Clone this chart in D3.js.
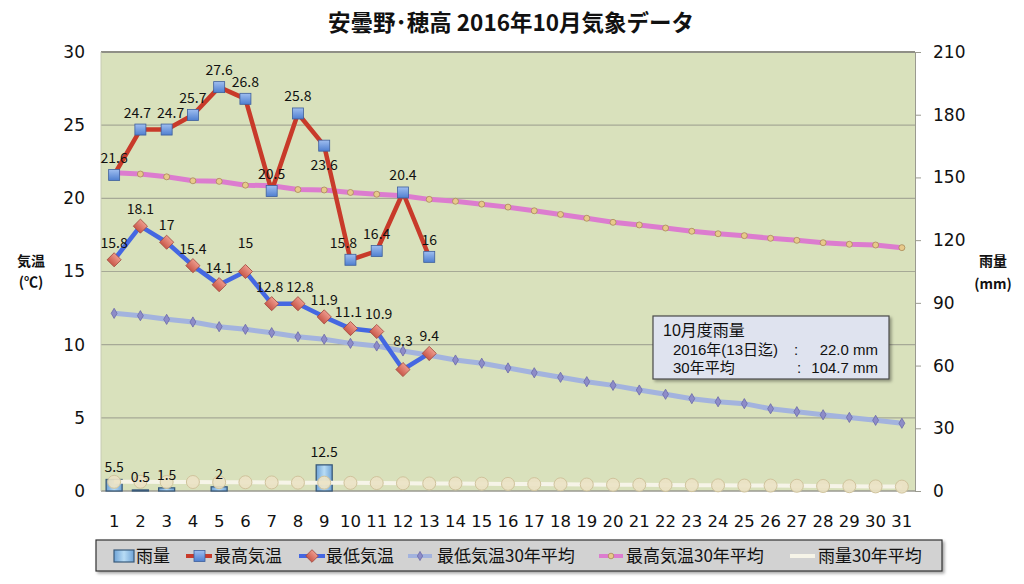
<!DOCTYPE html>
<html><head><meta charset="utf-8">
<script src="https://cdn.jsdelivr.net/npm/d3@7"></script>
<style>body{margin:0;background:#fff;} svg{display:block;}</style>
</head><body><svg id="c" width="1024" height="584"></svg>
<script>
const days = [1,2,3,4,5,6,7,8,9,10,11,12,13,14,15,16,17,18,19,20,21,22,23,24,25,26,27,28,29,30,31];
const rain = [5.5,0.5,1.5,0,2,0,0,0,12.5,0,0,0,0];
const maxTemp = [21.6,24.7,24.7,25.7,27.6,26.8,20.5,25.8,23.6,15.8,16.4,20.4,16];
const minTemp = [15.8,18.1,17,15.4,14.1,15,12.8,12.8,11.9,11.1,10.9,8.3,9.4];
const maxTemp30 = [21.75,21.66,21.47,21.2,21.16,20.9,20.86,20.6,20.57,20.4,20.28,20.18,19.93,19.8,19.6,19.4,19.15,18.9,18.64,18.36,18.18,17.97,17.75,17.58,17.45,17.27,17.13,16.97,16.86,16.81,16.63];
const minTemp30 = [12.14,11.98,11.73,11.55,11.23,11.05,10.82,10.54,10.37,10.09,9.91,9.57,9.28,8.95,8.73,8.41,8.08,7.77,7.47,7.22,6.9,6.61,6.31,6.1,5.97,5.62,5.42,5.21,5.03,4.83,4.63];
const rain30 = [4.4,4.4,4.3,4.3,4.2,4.2,4.1,4.0,4.0,3.9,3.8,3.7,3.6,3.6,3.5,3.4,3.3,3.2,3.1,3.0,3.0,2.9,2.8,2.7,2.6,2.6,2.5,2.4,2.3,2.2,2.1];
const tempTicks = [0,5,10,15,20,25,30];
const rainTicks = [0,30,60,90,120,150,180,210];
const title = "安曇野･穂高 2016年10月気象データ";
const legendNames = ["雨量","最高気温","最低気温","最低気温30年平均","最高気温30年平均","雨量30年平均"];
const infoTitle = "10月度雨量";
const infoLabels = ["2016年(13日迄)","30年平均"];
const infoValues = ["22.0 mm","104.7 mm"];

const svg = d3.select("#c");
const L = 101, R = 915, T = 52, B = 491;
const NUM = "'DejaVu Sans', 'Noto Sans CJK JP', sans-serif";
const JP = "'Noto Sans CJK JP', sans-serif";
const LAT = "'Liberation Sans', 'Noto Sans CJK JP', sans-serif";

const x = d3.scaleBand().domain(days).range([L, R]);
const cx = d => x(d) + x.bandwidth()/2;
const yT = d3.scaleLinear().domain([0,30]).range([B, T]);
const yR = d3.scaleLinear().domain([0,210]).range([B, T]);

const defs = svg.append("defs");
const g1 = defs.append("linearGradient").attr("id","sq").attr("x1",0).attr("y1",0).attr("x2",0).attr("y2",1);
g1.append("stop").attr("offset","0%").attr("stop-color","#9fbef0");
g1.append("stop").attr("offset","100%").attr("stop-color","#4f7fd0");
const g2 = defs.append("linearGradient").attr("id","bar").attr("x1",0).attr("y1",0).attr("x2",1).attr("y2",0);
g2.append("stop").attr("offset","0%").attr("stop-color","#6fa3d6");
g2.append("stop").attr("offset","50%").attr("stop-color","#b8dcf5");
g2.append("stop").attr("offset","100%").attr("stop-color","#6fa3d6");
const g3 = defs.append("linearGradient").attr("id","dia").attr("x1",0).attr("y1",0).attr("x2",0).attr("y2",1);
g3.append("stop").attr("offset","0%").attr("stop-color","#ee9a8c");
g3.append("stop").attr("offset","100%").attr("stop-color","#c9584a");
const sh = defs.append("filter").attr("id","shadow").attr("x","-5%").attr("y","-20%").attr("width","110%").attr("height","150%");
sh.append("feDropShadow").attr("dx",2).attr("dy",2).attr("stdDeviation",1.5).attr("flood-color","#000").attr("flood-opacity",0.35);

// title
svg.append("text").attr("x", 511).attr("y", 31).attr("text-anchor","middle")
  .attr("font-family", JP).attr("font-weight","bold").attr("font-size",22.5).attr("fill","#111").text(title);

// plot background
svg.append("rect").attr("x",L).attr("y",T).attr("width",R-L).attr("height",B-T).attr("fill","#d9e1bc");
// grid
svg.append("g").selectAll("line").data(tempTicks.filter(t=>t>0 && t<30)).join("line")
  .attr("x1",L).attr("x2",R).attr("y1",d=>yT(d)).attr("y2",d=>yT(d))
  .attr("stroke","#a6a996").attr("stroke-width",1.2);
svg.append("line").attr("x1",L).attr("x2",R).attr("y1",T).attr("y2",T).attr("stroke","#8f8f86").attr("stroke-width",2);
svg.append("line").attr("x1",L).attr("x2",R).attr("y1",B).attr("y2",B).attr("stroke","#9a9a90").attr("stroke-width",1.5);
svg.append("line").attr("x1",L).attr("x2",L).attr("y1",T).attr("y2",B).attr("stroke","#c8ccb4").attr("stroke-width",1);

// left axis
const axL = d3.axisLeft(yT).tickValues(tempTicks).tickSize(0).tickPadding(16);
svg.append("g").attr("transform",`translate(${L},0)`).call(axL)
  .call(g=>g.select(".domain").remove())
  .selectAll("text").attr("font-family",NUM).attr("font-size",17).attr("fill","#111");
// right axis
const axR = d3.axisRight(yR).tickValues(rainTicks).tickSize(6).tickPadding(12);
svg.append("g").attr("transform",`translate(${R},0)`).call(axR)
  .call(g=>g.select(".domain").attr("stroke","#9a9a90"))
  .call(g=>g.selectAll(".tick line").attr("stroke","#9a9a90"))
  .selectAll("text").attr("font-family",NUM).attr("font-size",17).attr("fill","#111");
// bottom axis
const axB = d3.axisBottom(x).tickSize(0).tickPadding(24);
svg.append("g").attr("transform",`translate(0,${B})`).call(axB)
  .call(g=>g.select(".domain").remove())
  .selectAll("text").attr("font-family",NUM).attr("font-size",16.5).attr("fill","#111");

// axis titles
const at = svg.append("g").attr("font-family",JP).attr("font-weight","bold").attr("font-size",14).attr("fill","#111").attr("text-anchor","middle");
at.append("text").attr("x",31).attr("y",266).text("気温");
at.append("text").attr("x",31).attr("y",287).text("(℃)");
at.append("text").attr("x",993).attr("y",266).text("雨量");
at.append("text").attr("x",993).attr("y",289).text("(mm)");

// rain bars
const rainData = rain.map((v,i)=>({d:days[i],v})).filter(o=>o.v>0);
svg.append("g").selectAll("rect").data(rainData).join("rect")
  .attr("x",o=>cx(o.d)-8).attr("width",16)
  .attr("y",o=>yR(o.v)).attr("height",o=>B-yR(o.v))
  .attr("fill","url(#bar)").attr("stroke","#3a5a7a").attr("stroke-width",1.3);

// rain30 line
const line = (ys, arr) => d3.line().x((v,i)=>cx(days[i])).y(v=>ys(v))(arr);
svg.append("path").attr("d",line(yR,rain30)).attr("fill","none").attr("stroke","#f6f4e8").attr("stroke-width",4);
svg.append("g").selectAll("circle").data(rain30).join("circle")
  .attr("cx",(v,i)=>cx(days[i])).attr("cy",v=>yR(v)).attr("r",6.5)
  .attr("fill","#ebe2c4").attr("fill-opacity",0.9).attr("stroke","#d0c39c").attr("stroke-width",1);

// max30
svg.append("path").attr("d",line(yT,maxTemp30)).attr("fill","none").attr("stroke","#dc7ccf").attr("stroke-width",5);
svg.append("g").selectAll("circle").data(maxTemp30).join("circle")
  .attr("cx",(v,i)=>cx(days[i])).attr("cy",v=>yT(v)).attr("r",3)
  .attr("fill","#e8c98a").attr("stroke","#a88a58").attr("stroke-width",0.8);
// min30
svg.append("path").attr("d",line(yT,minTemp30)).attr("fill","none").attr("stroke","#a3b3de").attr("stroke-width",5);
svg.append("g").selectAll("path").data(minTemp30).join("path")
  .attr("d",d3.symbol(d3.symbolDiamond, 30))
  .attr("transform",(v,i)=>`translate(${cx(days[i])},${yT(v)})`)
  .attr("fill","#8d8cc8").attr("stroke","#6b69a8").attr("stroke-width",0.8);

// max temp
svg.append("path").attr("d",line(yT,maxTemp)).attr("fill","none").attr("stroke","#c83a2a").attr("stroke-width",4.5).attr("stroke-linejoin","round");
svg.append("g").selectAll("rect").data(maxTemp).join("rect")
  .attr("x",(v,i)=>cx(days[i])-5.5).attr("y",v=>yT(v)-5.5).attr("width",11).attr("height",11)
  .attr("fill","url(#sq)").attr("stroke","#3e5f9c").attr("stroke-width",0.8);
// min temp
svg.append("path").attr("d",line(yT,minTemp)).attr("fill","none").attr("stroke","#4467e2").attr("stroke-width",4.5).attr("stroke-linejoin","round");
svg.append("g").selectAll("path").data(minTemp).join("path")
  .attr("d",d3.symbol(d3.symbolSquare, 100))
  .attr("transform",(v,i)=>`translate(${cx(days[i])},${yT(v)}) rotate(45)`)
  .attr("fill","url(#dia)").attr("stroke","#a24a3e").attr("stroke-width",0.8);

// labels
const lab = svg.append("g").attr("font-family",JP).attr("font-size",14).attr("fill","#111").attr("text-anchor","middle");
const maxAdj = {8: 36};
const maxDx = {1: -3, 2: 4, 9: -7};
lab.selectAll("text.mx").data(maxTemp).join("text").attr("class","mx")
  .attr("x",(v,i)=>cx(days[i]) + (maxDx[i]||0))
  .attr("y",(v,i)=>yT(v) - 12 + (maxAdj[i]||0))
  .text(v=>v);
const minAdj = {5: -12, 11: -12};
const minDx = {6: -2, 7: 2, 9: -2, 10: 2};
lab.selectAll("text.mn").data(minTemp).join("text").attr("class","mn")
  .attr("x",(v,i)=>cx(days[i]) + (minDx[i]||0))
  .attr("y",(v,i)=>yT(v) - 12 + (minAdj[i]||0))
  .text(v=>v);
lab.selectAll("text.rn").data(rainData).join("text").attr("class","rn")
  .attr("x",o=>cx(o.d)).attr("y",o=>yR(o.v)-8).text(o=>o.v);

// info box
const ib = svg.append("g");
ib.append("rect").attr("x",653).attr("y",316).attr("width",236).attr("height",63)
  .attr("fill","#dfe3ef").attr("stroke","#4a4a4a").attr("stroke-width",1.2).attr("filter","url(#shadow)");
const it = ib.append("g").attr("font-family",LAT).attr("font-size",15).attr("fill","#111");
it.append("text").attr("x",663).attr("y",336).attr("font-size",16).text(infoTitle);
it.append("text").attr("x",673).attr("y",355).text(infoLabels[0]);
it.append("text").attr("x",794).attr("y",355).text(":");
it.append("text").attr("x",878).attr("y",355).attr("text-anchor","end").text(infoValues[0]);
it.append("text").attr("x",673).attr("y",372.5).text(infoLabels[1]);
it.append("text").attr("x",797).attr("y",372.5).text(":");
it.append("text").attr("x",878).attr("y",372.5).attr("text-anchor","end").text(infoValues[1]);

// legend
const lg = svg.append("g");
lg.append("rect").attr("x",96).attr("y",540).attr("width",846).attr("height",31)
  .attr("fill","#d2d2d2").attr("stroke","#333").attr("stroke-width",1.2).attr("filter","url(#shadow)");
const ly = 556;
const lt = lg.append("g").attr("font-family",JP).attr("font-size",17).attr("fill","#111");
const textX = [136, 214, 326, 437, 626, 818];
legendNames.forEach((n,i)=>lt.append("text").attr("x",textX[i]).attr("y",ly+6).text(n));
// icons
lg.append("rect").attr("x",114).attr("y",ly-6).attr("width",20).attr("height",12).attr("fill","url(#bar)").attr("stroke","#3a5a7a").attr("stroke-width",1.2);
lg.append("line").attr("x1",186).attr("x2",212).attr("y1",ly).attr("y2",ly).attr("stroke","#c83a2a").attr("stroke-width",4);
lg.append("rect").attr("x",194).attr("y",ly-5.5).attr("width",11).attr("height",11).attr("fill","url(#sq)").attr("stroke","#3e5f9c").attr("stroke-width",0.8);
lg.append("line").attr("x1",299).attr("x2",325).attr("y1",ly).attr("y2",ly).attr("stroke","#4467e2").attr("stroke-width",4);
lg.append("path").attr("d",d3.symbol(d3.symbolSquare,80)).attr("transform",`translate(312,${ly}) rotate(45)`).attr("fill","url(#dia)").attr("stroke","#a24a3e").attr("stroke-width",0.8);
lg.append("line").attr("x1",408).attr("x2",432).attr("y1",ly).attr("y2",ly).attr("stroke","#a3b3de").attr("stroke-width",4);
lg.append("path").attr("d",d3.symbol(d3.symbolDiamond,24)).attr("transform",`translate(420,${ly})`).attr("fill","#8d8cc8").attr("stroke","#6b69a8").attr("stroke-width",0.8);
lg.append("line").attr("x1",599).attr("x2",623).attr("y1",ly).attr("y2",ly).attr("stroke","#dc7ccf").attr("stroke-width",4);
lg.append("circle").attr("cx",611).attr("cy",ly).attr("r",2.8).attr("fill","#e8c98a").attr("stroke","#a88a58").attr("stroke-width",0.8);
lg.append("line").attr("x1",790).attr("x2",815).attr("y1",ly).attr("y2",ly).attr("stroke","#f6f4e8").attr("stroke-width",4);
</script></body></html>
